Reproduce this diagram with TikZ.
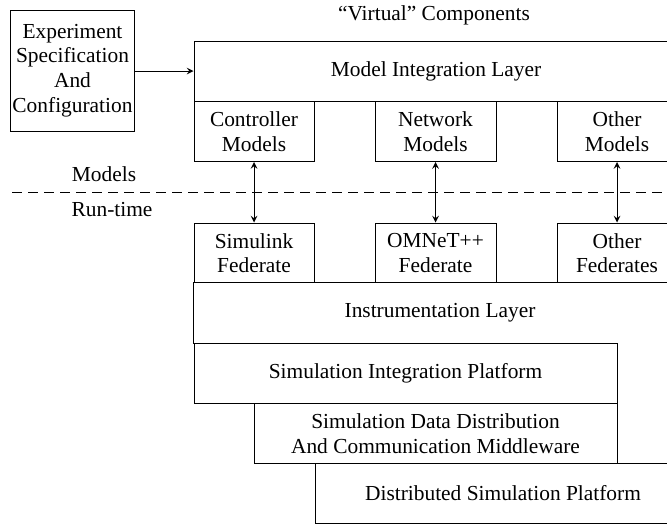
\documentclass[tikz,border=0pt]{standalone}
\usepackage{fontspec}
\setmainfont{Liberation Serif}
\usepackage{tikz}
\usetikzlibrary{positioning,shapes,arrows}

\begin{document}
\begin{tikzpicture}[auto,
    >=stealth,
    x=0.5pt, y=-0.5pt,
    line width=0.5pt,
    bb/.style={%
      rectangle, draw=black, fill=white,
      minimum height=30pt, inner sep=1pt, align=center,
      font=\fontsize{10.7}{12.3}\selectfont
    },
    inv/.style={%
      rectangle, draw=none,
      inner sep=1pt, align=center,
      font=\fontsize{10.7}{12.3}\selectfont
    }
]
    \clip (0,0) rectangle (667,525);

    % models side
    \node[bb, minimum width=60.5pt, minimum height=60.5pt] (exp) at (72.5,70.5)
        {Experiment\\Specification\\And\\Configuration};
    \node[bb, minimum width=242pt] (mil)  at (436,71)    {Model Integration Layer};
    \node[bb, minimum width=60pt]  (ctrl) at (254,131.5) {Controller\\Models};
    \node[bb, minimum width=60.5pt] (net) at (435.5,131.5) {Network\\Models};
    \node[bb, minimum width=60pt]  (oth)  at (617,131.5) {Other\\Models};

    % run-time side
    \node[bb, minimum width=60pt]  (sim)  at (254,253)   {Simulink\\Federate};
    \node[bb, minimum width=60.5pt] (omn) at (435.5,253) {OMNeT++\\Federate};
    \node[bb, minimum width=60pt]  (ofed) at (617,253)   {Other\\Federates};
    \node[bb, draw=none, minimum width=246pt] (inst) at (440,313) {Instrumentation Layer};
    \draw (inst.south west) -- (inst.north west) -- (inst.north east);
    \node[bb, minimum width=211.5pt] (sip) at (405.5,373) {Simulation Integration Platform};
    \node[bb, minimum width=181.5pt] (sdd) at (435.5,433.5)
        {Simulation Data Distribution\\And Communication Middleware};
    \node[bb, minimum width=188pt] (dsp) at (503,493.5) {Distributed Simulation Platform};

    \node[inv] (virt) at (434,15)  {``Virtual'' Components};
    \node[inv] (mod)  at (104,174) {Models};
    \node[inv] (run)  at (112,210) {Run-time};

    \coordinate (dl) at (12,192);
    \coordinate (dr) at (667,192);
    \draw[dash pattern=on 5pt off 3pt] (dl) -- (dr);

    \draw[->] (exp.east |- mil.west) -- (mil.west);
    \draw[<->] (ctrl) -- (sim);
    \draw[<->] (net) -- (omn);
    \draw[<->] (oth) -- (ofed);

\end{tikzpicture}
\end{document}
